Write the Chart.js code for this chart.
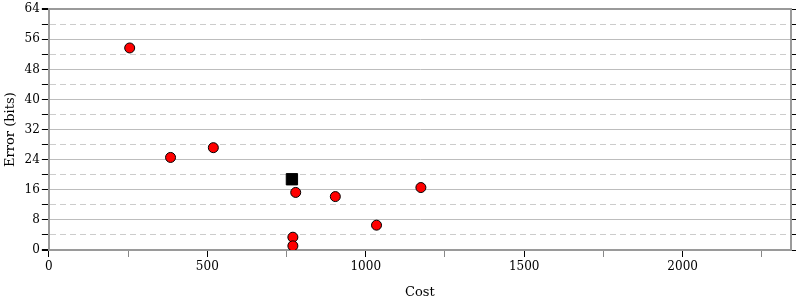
<!DOCTYPE html>
<html>
<head>
<meta charset="utf-8">
<script src="https://cdn.jsdelivr.net/npm/chart.js@4/dist/chart.umd.min.js"></script>
<style>
  html, body { margin: 0; padding: 0; background: #fff; }
  #wrap { width: 800px; height: 300px; }
</style>
</head>
<body>
<div id="wrap"><canvas id="scatterChart"></canvas></div>
<script>
// red circles: measured runs
const costs  = [255, 384, 519, 779, 904, 1034, 1174, 770, 770];
const errors = [53.7, 24.6, 27.2, 15.3, 14.2, 6.6, 16.6, 3.4, 1.1];
// black square: reference point
const refCost  = [767];
const refError = [18.8];

const yTicks = [0, 8, 16, 24, 32, 40, 48, 56, 64];
const xTicks = [0, 500, 1000, 1500, 2000];

const tickFont = { family: 'DejaVu Serif', size: 12 };
const titleFont = { family: 'DejaVu Serif', size: 13 };
const axisGray = '#9a9a9a';

const toPoints = (xs, ys) => xs.map((x, i) => ({ x: x, y: ys[i] }));

new Chart(document.getElementById('scatterChart'), {
    type: 'scatter',
    data: {
        datasets: [{
            label: 'runs',
            data: toPoints(costs, errors),
            backgroundColor: '#ff0000',
            borderColor: '#000',
            borderWidth: 1,
            pointRadius: 5,
            pointHoverRadius: 5
        }, {
            label: 'reference',
            data: toPoints(refCost, refError),
            pointStyle: 'rect',
            backgroundColor: '#000',
            borderColor: '#000',
            borderWidth: 1,
            pointRadius: 8,
            pointHoverRadius: 8
        }]
    },
    options: {
        responsive: true,
        maintainAspectRatio: false,
        animation: false,
        layout: { padding: { top: 7, right: 3, left: 1, bottom: 0 } },
        plugins: {
            legend: { display: false },
            tooltip: { enabled: false }
        },
        scales: {
            x: {
                type: 'linear',
                min: 0,
                max: 2342,
                afterBuildTicks: (axis) => {
                    axis.ticks = [];
                    for (let v = 0; v <= 2342; v += 250) axis.ticks.push({ value: v });
                },
                ticks: {
                    color: '#000',
                    font: tickFont,
                    maxRotation: 0,
                    autoSkip: false,
                    padding: 3,
                    callback: (v) => xTicks.includes(v) ? String(v) : ''
                },
                grid: {
                    drawOnChartArea: false,
                    drawTicks: true,
                    tickLength: 7,
                    tickColor: (ctx) => xTicks.includes(ctx.tick && ctx.tick.value) ? '#000' : '#888'
                },
                border: { color: axisGray, width: 2 },
                title: { display: true, text: 'Cost', color: '#000', font: titleFont, padding: { top: 7, bottom: 0 } }
            },
            y: {
                type: 'linear',
                min: 0,
                max: 64,
                afterBuildTicks: (axis) => {
                    axis.ticks = [];
                    for (let v = 0; v <= 64; v += 4) axis.ticks.push({ value: v });
                },
                ticks: {
                    color: '#000',
                    font: tickFont,
                    autoSkip: false,
                    padding: 2,
                    callback: (v) => yTicks.includes(v) ? String(v) : ''
                },
                grid: {
                    color: (ctx) => {
                        const v = ctx.tick && ctx.tick.value;
                        if (v === 0 || v === 64) return axisGray;
                        return yTicks.includes(v) ? '#bdbdbd' : '#cccccc';
                    },
                    lineWidth: (ctx) => {
                        const v = ctx.tick && ctx.tick.value;
                        return (v === 0 || v === 64) ? 2 : 1;
                    },
                    tickLength: 7,
                    tickColor: '#000'
                },
                border: {
                    color: axisGray,
                    width: 2,
                    dash: (ctx) => {
                        const v = ctx.tick && ctx.tick.value;
                        return (v !== undefined && !yTicks.includes(v)) ? [6, 4] : [];
                    }
                },
                title: { display: true, text: 'Error (bits)', color: '#000', font: titleFont, padding: { top: 2, bottom: 4 } }
            },
            y2: {
                type: 'linear',
                position: 'right',
                min: 0,
                max: 64,
                afterBuildTicks: (axis) => {
                    axis.ticks = [];
                    for (let v = 0; v <= 64; v += 4) axis.ticks.push({ value: v });
                },
                ticks: { display: false },
                grid: {
                    drawOnChartArea: false,
                    tickLength: 5,
                    tickColor: '#000'
                },
                border: { color: axisGray, width: 2 }
            }
        }
    }
});
</script>
</body>
</html>
